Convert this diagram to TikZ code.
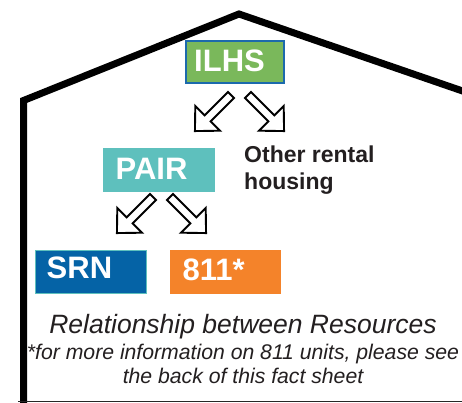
\documentclass[tikz,border=0pt]{standalone}
\usepackage{fontspec}
\setmainfont{Liberation Sans}
\usetikzlibrary{calc}
\definecolor{ilhsgreen}{HTML}{7AB85B}
\definecolor{ilhsblue}{HTML}{1C6AAC}
\definecolor{pairteal}{HTML}{5EC0BD}
\definecolor{srnblue}{HTML}{0563A6}
\definecolor{orange811}{HTML}{F4832A}
\definecolor{darktext}{HTML}{231F20}
\tikzset{
  box/.style={inner sep=0pt, anchor=north west},
  boxtext/.style={inner sep=0pt, anchor=base west, text=white, font=\bfseries\fontsize{31}{36}\selectfont},
  house/.style={line width=7pt, line join=miter, black},
  blockarrow/.style={draw=black, fill=white, line width=1.9pt, line join=miter},
  barrow/.pic={\path[blockarrow] (0,-4.2) -- (33,-4.2) -- (33,-17.5) -- (51,0) -- (33,17.5) -- (33,4.2) -- (0,4.2) -- cycle;},
  caption/.style={inner sep=0pt, anchor=base, text=darktext}
}
\begin{document}
\begin{tikzpicture}[x=1pt,y=1pt]
\useasboundingbox (0,0) rectangle (462,-402);
\clip (0,0) rectangle (462,-402);
\fill[white] (0,0) rectangle (462,-402);
% house outline
\coordinate (wallbottom) at (23.5,-410);
\coordinate (eave) at (23.5,-100.5);
\coordinate (peak) at (239,-14);
\coordinate (roofend) at (480,-97);
\draw[house] (wallbottom) -- (eave) -- (peak) -- (roofend);
\coordinate (floorL) at (18,-401);
\coordinate (floorR) at (462,-401);
\draw[line width=1pt, black!85] (floorL) -- (floorR);
% boxes
\node[box, fill=ilhsgreen, draw=ilhsblue, line width=1.8pt, minimum width=98pt, minimum height=42pt] (ilhs) at (185,-40) {};
\node[boxtext] (ilhst) at (194,-71) {ILHS};
\node[box, fill=pairteal, minimum width=112pt, minimum height=44pt] (pair) at (103,-148) {};
\node[boxtext] (pairt) at (115.5,-179.3) {PAIR};
\node[box, fill=srnblue, draw=pairteal, line width=1.5pt, minimum width=111pt, minimum height=43pt] (srn) at (34.5,-249.5) {};
\node[boxtext] (srnt) at (46.5,-278.3) {SRN};
\node[box, fill=orange811, minimum width=111pt, minimum height=44pt] (o811) at (170,-249.5) {};
\node[boxtext] (o811t) at (182.5,-280) {811*};
% other rental housing
\node[inner sep=0pt, anchor=base west, text=darktext, font=\bfseries\fontsize{23}{27}\selectfont] (other1) at (244,-162) {Other rental};
\node[inner sep=0pt, anchor=base west, text=darktext, font=\bfseries\fontsize{23}{27}\selectfont] (other2) at (244,-189) {housing};
% arrows
\pic[rotate=-135] (a1) at (231,-95) {barrow};
\pic[rotate=-45] (a2) at (248,-95) {barrow};
\pic[rotate=-135] (a3) at (153,-197) {barrow};
\pic[rotate=-45] (a4) at (170,-197) {barrow};
% caption
\node[caption, font=\itshape\fontsize{26.5}{30}\selectfont] (cap1) at (243,-333.3) {Relationship between Resources};
\node[caption, font=\itshape\fontsize{21.2}{24}\selectfont] (cap2) at (243,-359.3) {*for more information on 811 units, please see};
\node[caption, font=\itshape\fontsize{21.2}{24}\selectfont] (cap3) at (243,-383.3) {the back of this fact sheet};
\end{tikzpicture}
\end{document}
